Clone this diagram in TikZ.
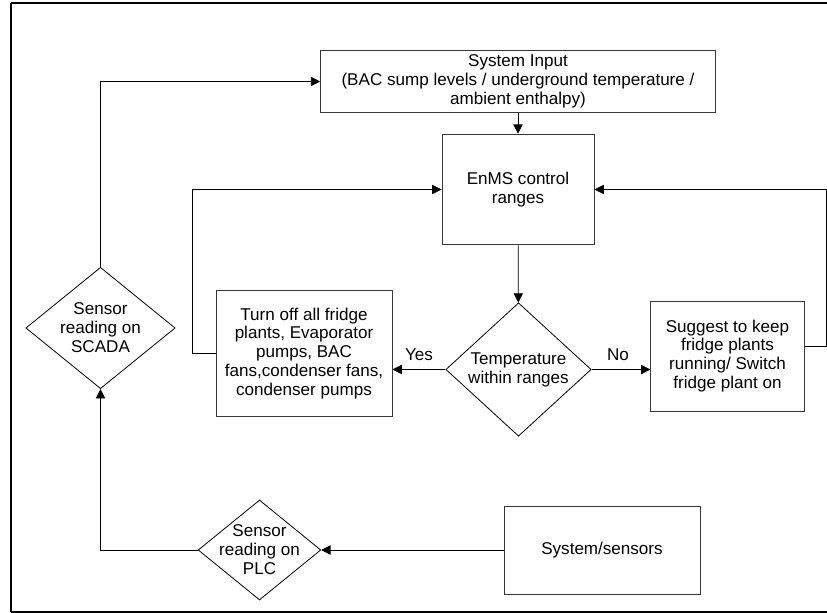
\documentclass[tikz,border=0pt]{standalone}
\usepackage{fontspec}
\setmainfont{Liberation Sans}
\usetikzlibrary{arrows.meta}
\usetikzlibrary{calc}
\usetikzlibrary{shapes.geometric}

\begin{document}
\begin{tikzpicture}[x=0.75pt,y=-0.75pt,
    block/.style={
      rectangle,
      draw=boxgray,
      line width=0.7pt,
      align=center,
      inner sep=2pt,
      font=\fontsize{12.8}{14.2}\selectfont
    },
    decision/.style={
      diamond,
      draw=black,
      line width=0.6pt,
      align=center,
      inner sep=-12pt,
      font=\fontsize{12.8}{14.2}\selectfont
    }]

\definecolor{boxgray}{RGB}{55,55,55}

\useasboundingbox (0,0) rectangle (827,613);
\draw[line width=1pt] (11,3) -- (11,612);
\draw[line width=1pt] (11,3) -- (840,3);
\draw[line width=1.6pt] (11,612) -- (840,612);

\node[block, minimum width=296pt, minimum height=46pt] (inp) at (518,81.5) {System Input\\(BAC sump levels / underground temperature /\\ambient enthalpy)};
\node[block, minimum width=114pt, minimum height=83pt] (enms) at (518,189.5) {EnMS control\\ranges};
\node[decision, minimum width=109pt, minimum height=100pt] (temp) at (518.5,369.5) {Temperature\\within ranges};
\node[block, minimum width=132pt, minimum height=95pt] (off) at (304,353.5) {Turn off all fridge\\plants, Evaporator\\pumps, BAC\\fans,condenser fans,\\condenser pumps};
\node[block, minimum width=115pt, minimum height=82.5pt] (sug) at (727.5,356) {Suggest to keep\\fridge plants\\running/ Switch\\fridge plant on};
\node[decision, minimum width=112pt, minimum height=91pt] (scada) at (100.5,328) {Sensor\\reading on\\SCADA};
\node[decision, minimum width=92pt, minimum height=75pt] (plc) at (259.5,550) {Sensor\\reading on\\PLC};
\node[block, minimum width=147pt, minimum height=66pt] (sens) at (602,550) {System/sensors};

\tikzset{>={Triangle[length=7pt,width=7pt]}}

\draw[->,line width=0.6pt] (inp) -- (enms);
\draw[->,line width=0.6pt] (enms) -- (temp);
\draw[->,line width=0.6pt] (temp.west) -- (temp.west -| off.east) node[pos=0.5,above=3pt,font=\fontsize{12.8}{14.2}\selectfont] {Yes};
\draw[->,line width=0.6pt] (temp.east) -- (temp.east -| sug.west) node[pos=0.45,above=3pt,font=\fontsize{12.8}{14.2}\selectfont] {No};
\draw[->,line width=0.6pt] (off.west) -- ++(-23,0) |- (enms.west);
\draw[->,line width=0.6pt] ([yshift=7pt]sug.east) -- ++(22,0) |- (enms.east);
\draw[->,line width=0.6pt] (sens) -- (plc);
\draw[->,line width=0.6pt] (plc.west) -| (scada.south);
\draw[->,line width=0.6pt] (scada.north) |- (inp.west);

\end{tikzpicture}
\end{document}
